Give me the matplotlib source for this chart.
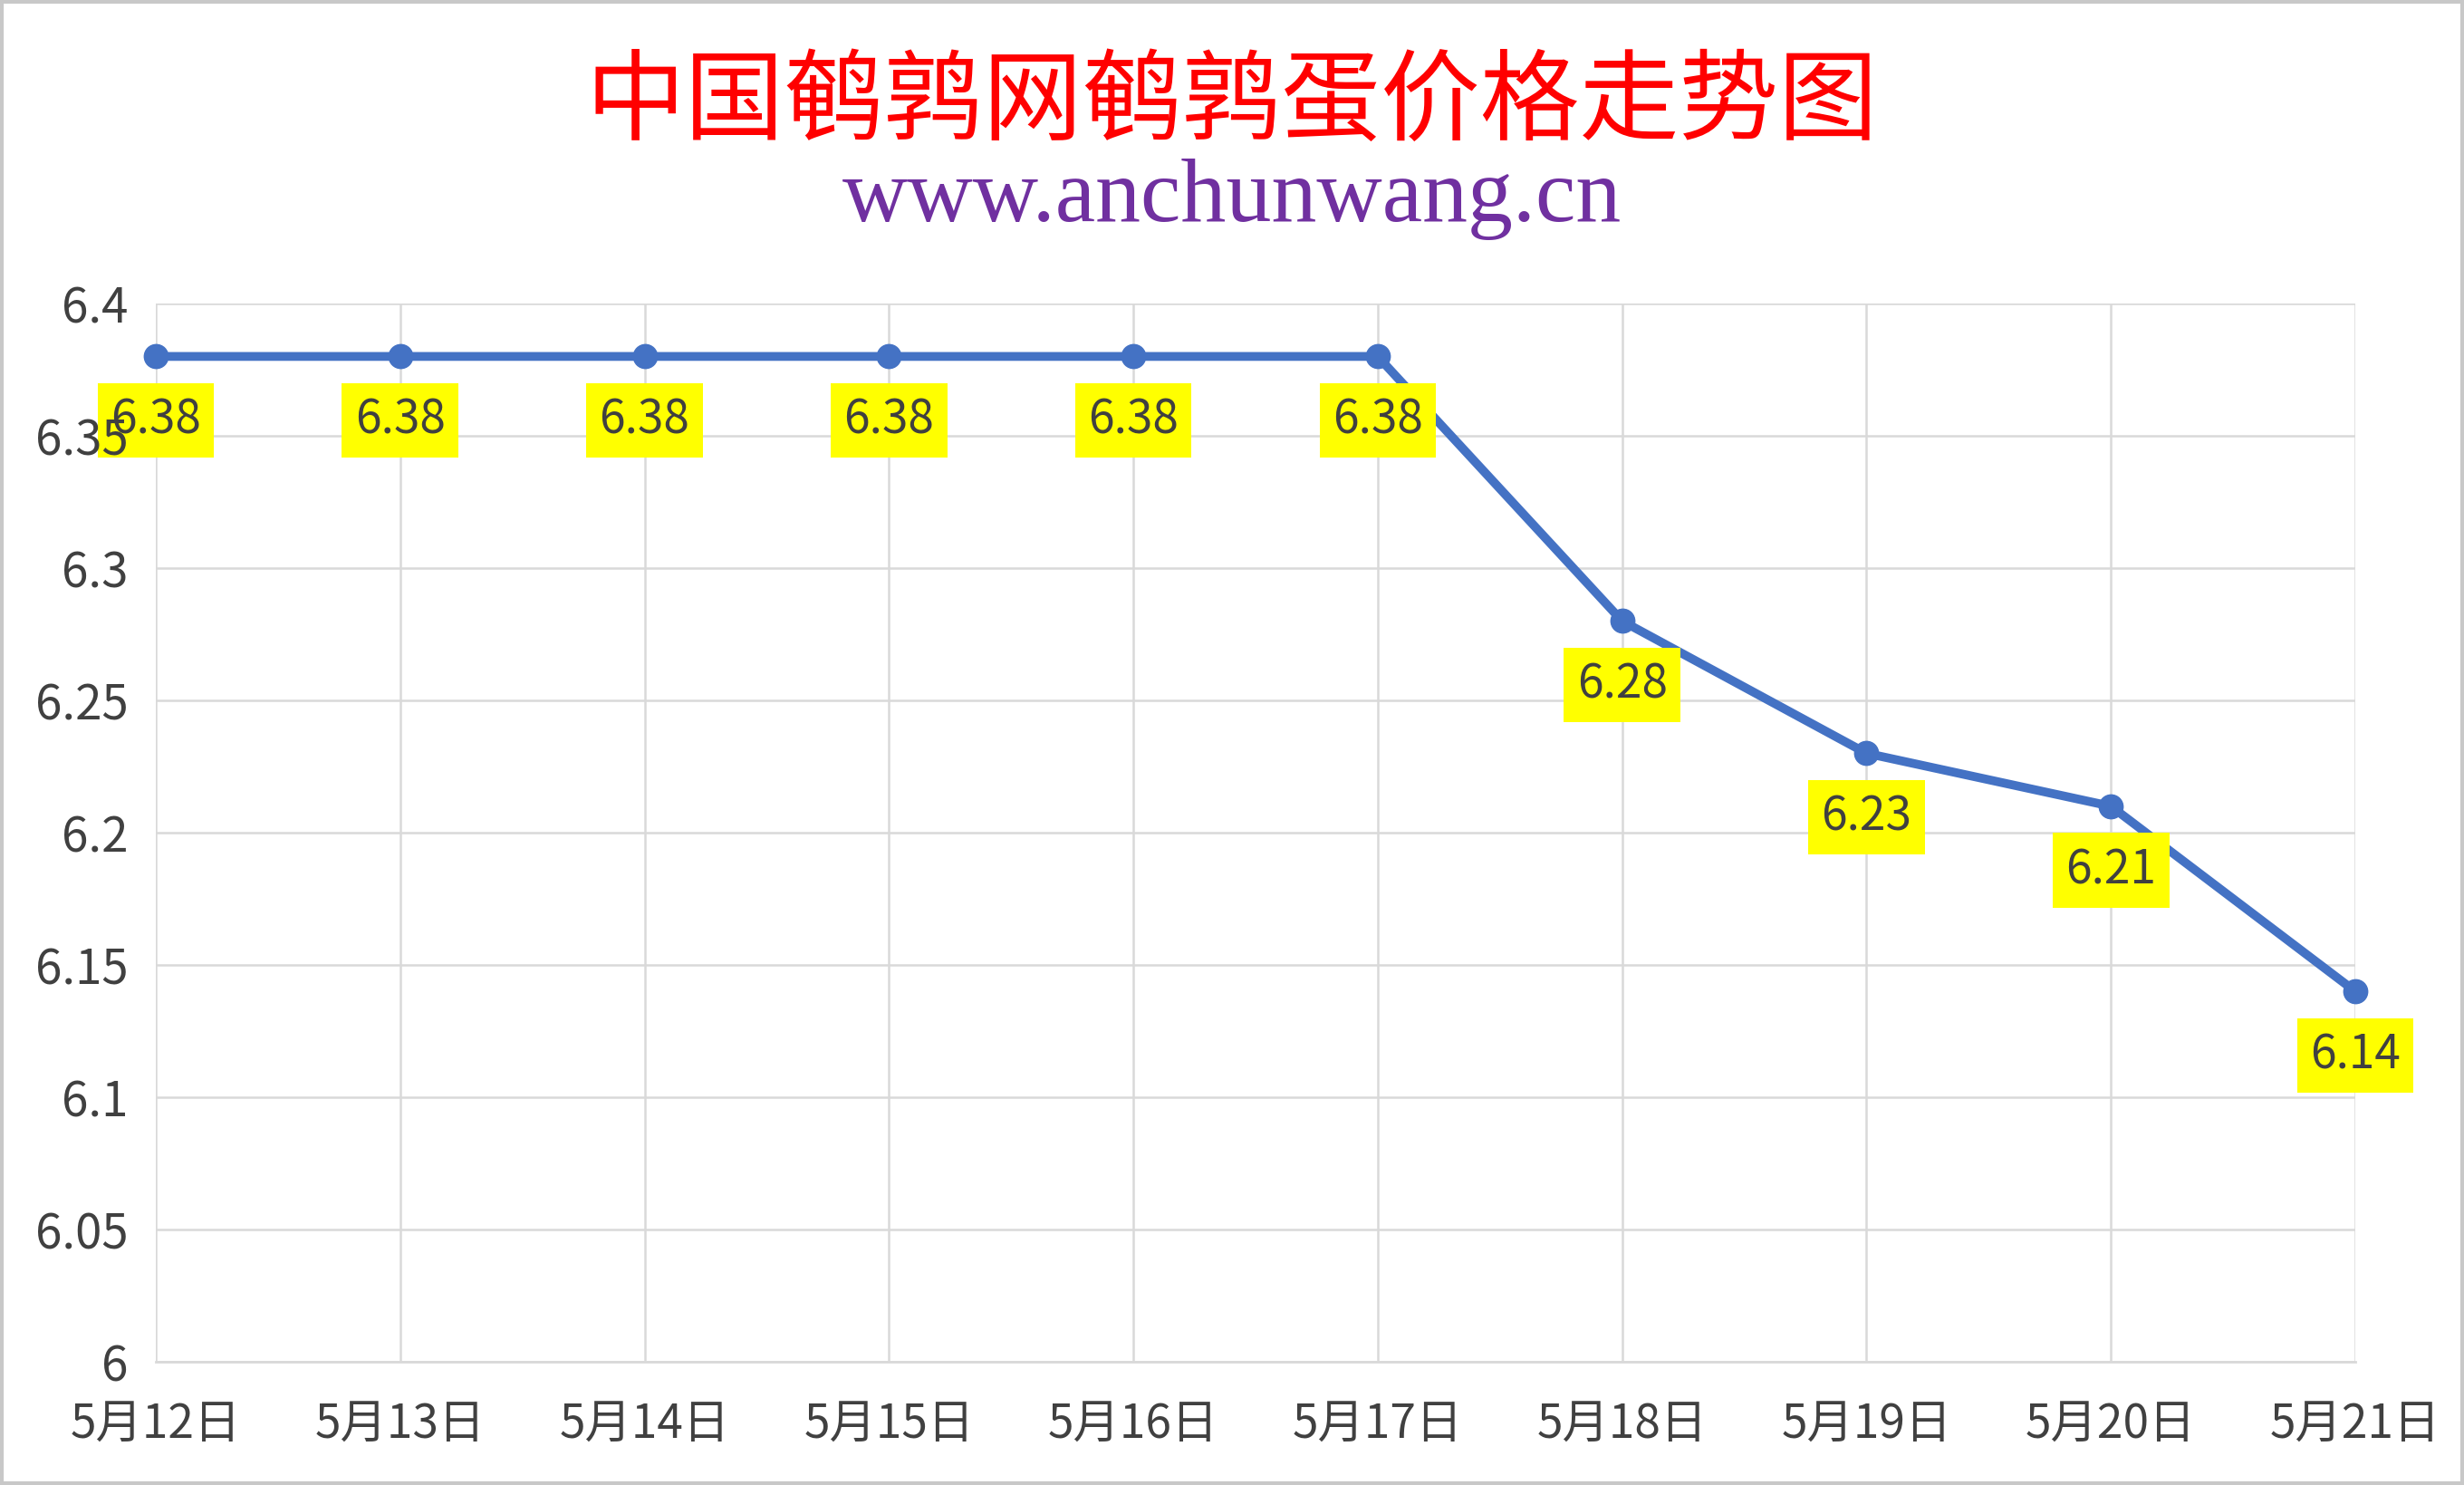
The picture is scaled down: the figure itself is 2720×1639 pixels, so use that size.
import matplotlib
matplotlib.use("Agg")
import matplotlib.pyplot as plt
from matplotlib.patches import Rectangle

plt.rcParams['font.family'] = ['Noto Sans CJK SC', 'DejaVu Sans']

dates = ["5月12日", "5月13日", "5月14日", "5月15日", "5月16日",
         "5月17日", "5月18日", "5月19日", "5月20日", "5月21日"]
prices = [6.38, 6.38, 6.38, 6.38, 6.38, 6.38, 6.28, 6.23, 6.21, 6.14]
yticks = [6.0, 6.05, 6.1, 6.15, 6.2, 6.25, 6.3, 6.35, 6.4]
ytick_labels = ["6", "6.05", "6.1", "6.15", "6.2", "6.25", "6.3", "6.35", "6.4"]
title = "中国鹌鹑网鹌鹑蛋价格走势图"
subtitle = "www.anchunwang.cn"

W, H = 2720, 1639
fig = plt.figure(figsize=(W / 100, H / 100), dpi=100)
ax = fig.add_axes([172 / W, 1 - 1503 / H, (2600 - 172) / W, (1503 - 335) / H])

x = list(range(len(dates)))

# gridlines drawn as low-zorder lines so the tick labels can sit above the data labels
for yt in yticks:
    ax.axhline(yt, color="#D9D9D9", linewidth=1.8, zorder=0)
for xi in x:
    ax.axvline(xi, color="#D9D9D9", linewidth=1.8, zorder=0)

ax.plot(x, prices, color="#4472C4", linewidth=7, marker="o", markersize=19,
        zorder=3, solid_capstyle="round", clip_on=False)

ax.set_xlim(0, len(dates) - 1)
ax.set_ylim(6.0, 6.4)
ax.set_yticks(yticks)
ax.set_yticklabels(ytick_labels)
ax.set_xticks(x)
ax.set_xticklabels(dates)
ax.tick_params(axis="both", length=0, colors="#404040")
ax.tick_params(axis="y", pad=22, labelsize=38)
ax.tick_params(axis="x", pad=31, labelsize=37)
for s in ["top", "right", "left"]:
    ax.spines[s].set_visible(False)
ax.spines["bottom"].set_color("#D9D9D9")
ax.spines["bottom"].set_linewidth(2)
ax.yaxis.set_zorder(10)

for xi, v in zip(x, prices):
    ax.annotate(f"{v:.2f}", (xi, v), xytext=(0, -51), textcoords="offset points",
                ha="center", va="center", fontsize=37, color="#404040",
                bbox=dict(boxstyle="square,pad=0.28", facecolor="#FFFF00", edgecolor="none"),
                zorder=5)

fig.text(0.5, 1 - 115 / H, title, ha="center", va="center", fontsize=79,
         color="#FF0000", family=['Noto Sans CJK SC', 'DejaVu Sans'])
fig.text(0.5, 1 - 244 / H, subtitle, ha="center", va="baseline", fontsize=72,
         color="#7030A0", family=['Liberation Serif', 'DejaVu Serif'])

fig.patches.append(Rectangle((0.0008, 0.001), 0.9984, 0.998, transform=fig.transFigure,
                             fill=False, edgecolor="#C8C8C8", linewidth=3))

fig.savefig("out.png", dpi=100, facecolor="white")
